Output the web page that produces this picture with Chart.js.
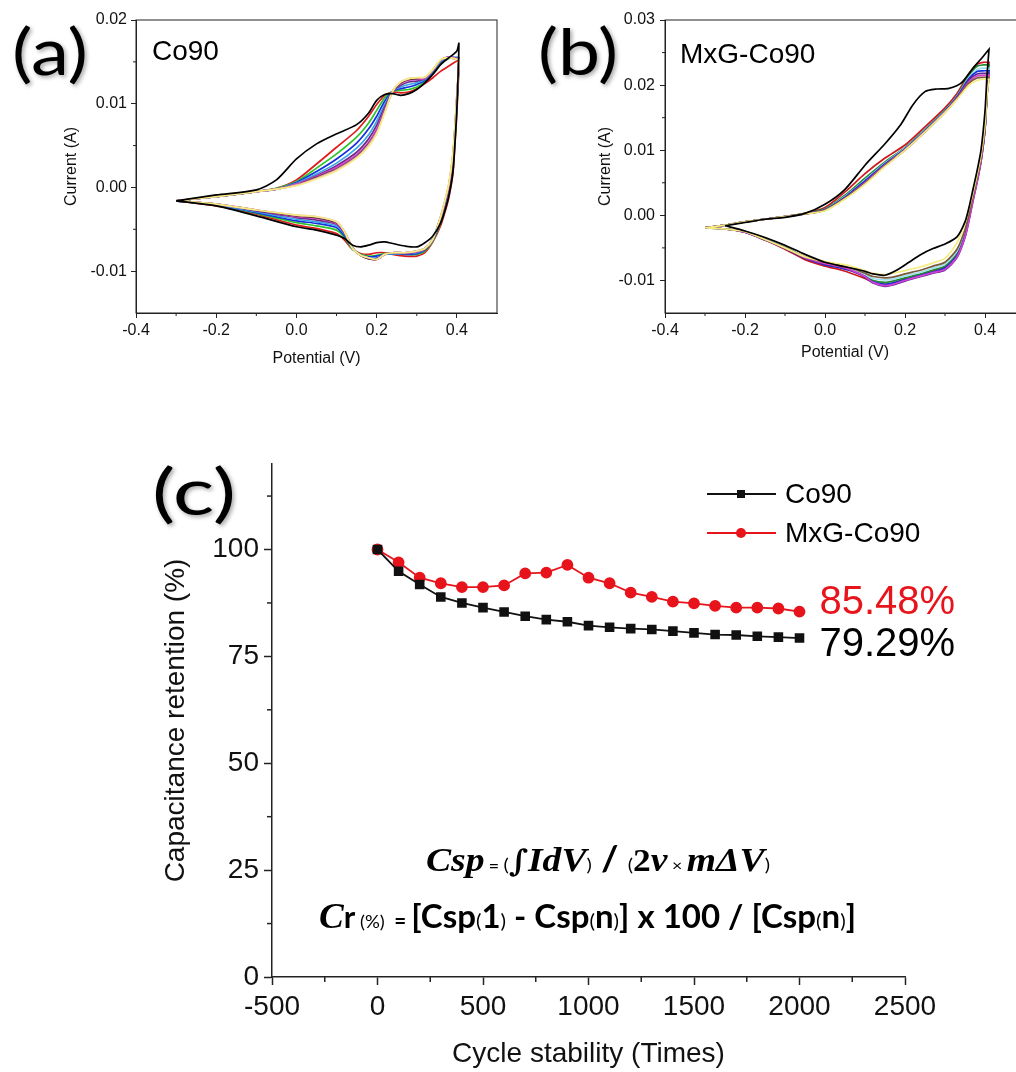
<!DOCTYPE html>
<html><head><meta charset="utf-8">
<script src="https://cdn.jsdelivr.net/npm/chart.js@4.4.1/dist/chart.umd.min.js"></script>
<style>
html,body{margin:0;padding:0;background:#fff;overflow:hidden;width:1016px;height:1072px;}
canvas{position:absolute;}
#ca{left:0;top:0;}
#cb{left:508px;top:0;}
#cc{left:130px;top:440px;}
</style></head><body>
<canvas id="ca" width="508" height="380"></canvas>
<canvas id="cb" width="520" height="380"></canvas>
<canvas id="cc" width="886" height="632"></canvas>
<script>
// ---------------- Panel (a): Co90 CV curves ----------------
const A_V_UP = [-0.3, -0.2, -0.1, -0.05, 0.0, 0.05, 0.1, 0.15, 0.18, 0.2, 0.22, 0.24, 0.26, 0.28, 0.3, 0.32, 0.34, 0.36, 0.38, 0.4];
const A_V_DN = [0.405, 0.4, 0.395, 0.39, 0.38, 0.37, 0.36, 0.34, 0.32, 0.3, 0.27, 0.24, 0.22, 0.2, 0.18, 0.16, 0.14, 0.12, 0.1, 0.05, 0.0, -0.1, -0.2, -0.3];

const A_BLACK_UP   = [-0.0016, -0.0009, -0.0003, 0.0009, 0.0034, 0.0052, 0.0064, 0.0075, 0.0089, 0.0104, 0.0111, 0.0112, 0.0110, 0.0112, 0.0117, 0.0125, 0.0135, 0.0147, 0.0155, 0.0163];
const A_RED_UP     = [-0.0016, -0.0011, -0.0005, -0.0001, 0.0009, 0.0028, 0.0048, 0.0068, 0.0085, 0.0099, 0.0110, 0.0114, 0.0113, 0.0114, 0.0118, 0.0124, 0.0131, 0.0139, 0.0145, 0.0151];
const A_GREEN_UP   = [-0.0016, -0.0011, -0.0005, -0.0001, 0.0007, 0.0023, 0.0040, 0.0060, 0.0077, 0.0092, 0.0107, 0.0115, 0.0116, 0.0117, 0.0120, 0.0126, 0.0136, 0.0148, 0.0154, 0.0155];
const A_BLUE_UP    = [-0.0016, -0.0011, -0.0005, -0.0002, 0.0006, 0.0019, 0.0034, 0.0053, 0.0070, 0.0085, 0.0103, 0.0115, 0.0118, 0.0120, 0.0123, 0.0128, 0.0138, 0.0150, 0.0155, 0.0155];
const A_CYAN_UP    = [-0.0016, -0.0011, -0.0005, -0.0002, 0.0005, 0.0016, 0.0029, 0.0047, 0.0063, 0.0079, 0.0099, 0.0115, 0.0120, 0.0123, 0.0125, 0.0129, 0.0139, 0.0151, 0.0156, 0.0155];
const A_PURPLE_UP  = [-0.0016, -0.0011, -0.0005, -0.0002, 0.0004, 0.0014, 0.0026, 0.0042, 0.0058, 0.0074, 0.0096, 0.0115, 0.0122, 0.0126, 0.0127, 0.0130, 0.0140, 0.0152, 0.0156, 0.0154];
const A_MAGENTA_UP = [-0.0016, -0.0011, -0.0005, -0.0002, 0.0004, 0.0013, 0.0024, 0.0039, 0.0054, 0.0070, 0.0093, 0.0115, 0.0124, 0.0128, 0.0129, 0.0130, 0.0140, 0.0152, 0.0156, 0.0154];
const A_BROWN_UP   = [-0.0016, -0.0011, -0.0005, -0.0002, 0.0003, 0.0012, 0.0022, 0.0037, 0.0052, 0.0067, 0.0091, 0.0115, 0.0125, 0.0129, 0.0130, 0.0131, 0.0140, 0.0152, 0.0155, 0.0153];
const A_PINK_UP    = [-0.0016, -0.0011, -0.0005, -0.0002, 0.0003, 0.0011, 0.0021, 0.0036, 0.0051, 0.0066, 0.0090, 0.0115, 0.0126, 0.0130, 0.0131, 0.0131, 0.0140, 0.0152, 0.0155, 0.0153];
const A_YELLOW_UP  = [-0.0016, -0.0011, -0.0005, -0.0002, 0.0002, 0.0010, 0.0020, 0.0035, 0.0049, 0.0064, 0.0089, 0.0115, 0.0126, 0.0130, 0.0131, 0.0132, 0.0141, 0.0153, 0.0155, 0.0153];

const A_BLACK_DN   = [0.0172, 0.0095, 0.0052, 0.0018, -0.0010, -0.0028, -0.0042, -0.0058, -0.0066, -0.0071, -0.0070, -0.0067, -0.0065, -0.0066, -0.0069, -0.0071, -0.0069, -0.0061, -0.0057, -0.0051, -0.0047, -0.0034, -0.0022, -0.0016];
const A_RED_DN     = [0.0151, 0.0090, 0.0050, 0.0016, -0.0012, -0.0030, -0.0045, -0.0065, -0.0078, -0.0082, -0.0082, -0.0080, -0.0078, -0.0078, -0.0080, -0.0079, -0.0074, -0.0063, -0.0055, -0.0049, -0.0045, -0.0032, -0.0022, -0.0016];
const A_GREEN_DN   = [0.0155, 0.0095, 0.0055, 0.0022, -0.0008, -0.0027, -0.0042, -0.0064, -0.0076, -0.0080, -0.0080, -0.0079, -0.0079, -0.0081, -0.0082, -0.0080, -0.0074, -0.0060, -0.0051, -0.0046, -0.0042, -0.0031, -0.0021, -0.0016];
const A_BLUE_DN    = [0.0155, 0.0100, 0.0060, 0.0026, -0.0004, -0.0024, -0.0040, -0.0063, -0.0075, -0.0079, -0.0080, -0.0079, -0.0080, -0.0082, -0.0083, -0.0081, -0.0073, -0.0058, -0.0048, -0.0043, -0.0040, -0.0030, -0.0021, -0.0016];
const A_CYAN_DN    = [0.0155, 0.0103, 0.0063, 0.0030, -0.0002, -0.0022, -0.0038, -0.0062, -0.0074, -0.0078, -0.0079, -0.0079, -0.0080, -0.0084, -0.0084, -0.0081, -0.0073, -0.0056, -0.0046, -0.0041, -0.0038, -0.0029, -0.0021, -0.0016];
const A_PURPLE_DN  = [0.0154, 0.0106, 0.0066, 0.0034, 0.0000, -0.0020, -0.0036, -0.0062, -0.0074, -0.0077, -0.0079, -0.0078, -0.0080, -0.0085, -0.0085, -0.0081, -0.0073, -0.0055, -0.0044, -0.0039, -0.0036, -0.0028, -0.0020, -0.0016];
const A_MAGENTA_DN = [0.0154, 0.0108, 0.0068, 0.0036, 0.0002, -0.0018, -0.0035, -0.0062, -0.0073, -0.0077, -0.0078, -0.0078, -0.0080, -0.0086, -0.0085, -0.0081, -0.0073, -0.0054, -0.0043, -0.0037, -0.0035, -0.0027, -0.0020, -0.0016];
const A_BROWN_DN   = [0.0153, 0.0110, 0.0070, 0.0038, 0.0003, -0.0017, -0.0034, -0.0062, -0.0073, -0.0076, -0.0078, -0.0078, -0.0080, -0.0086, -0.0085, -0.0081, -0.0072, -0.0053, -0.0042, -0.0036, -0.0034, -0.0027, -0.0020, -0.0016];
const A_PINK_DN    = [0.0153, 0.0110, 0.0071, 0.0039, 0.0004, -0.0016, -0.0034, -0.0062, -0.0073, -0.0076, -0.0078, -0.0078, -0.0080, -0.0086, -0.0084, -0.0081, -0.0073, -0.0053, -0.0041, -0.0035, -0.0033, -0.0027, -0.0020, -0.0016];
const A_YELLOW_DN  = [0.0153, 0.0110, 0.0072, 0.0040, 0.0005, -0.0016, -0.0034, -0.0062, -0.0073, -0.0076, -0.0078, -0.0078, -0.0080, -0.0086, -0.0084, -0.0081, -0.0073, -0.0053, -0.0041, -0.0035, -0.0033, -0.0027, -0.0020, -0.0016];

// ---------------- Panel (b): MxG-Co90 CV curves ----------------
const B_V_UP = [-0.3, -0.25, -0.2, -0.15, -0.1, -0.05, 0.0, 0.05, 0.1, 0.15, 0.2, 0.25, 0.3, 0.33, 0.36, 0.38, 0.395, 0.41];
const B_V_DN = [0.41, 0.405, 0.4, 0.39, 0.38, 0.37, 0.36, 0.35, 0.33, 0.3, 0.27, 0.24, 0.2, 0.17, 0.15, 0.12, 0.1, 0.07, 0.04, 0.0, -0.05, -0.1, -0.15, -0.2, -0.25, -0.3];
const B_BLACK_V_UP = [-0.25, -0.2, -0.15, -0.1, -0.05, 0.0, 0.05, 0.1, 0.15, 0.19, 0.22, 0.25, 0.28, 0.31, 0.34, 0.37, 0.39, 0.41];
const B_BLACK_V_DN = [0.41, 0.405, 0.4, 0.39, 0.38, 0.37, 0.36, 0.35, 0.33, 0.3, 0.27, 0.24, 0.21, 0.18, 0.15, 0.12, 0.1, 0.05, 0.0, -0.05, -0.1, -0.15, -0.2, -0.25];

const B_BLACK_UP   = [-0.0016, -0.0011, -0.0006, -0.0003, 0.0003, 0.0017, 0.0040, 0.0077, 0.0110, 0.0140, 0.0170, 0.0190, 0.0194, 0.0195, 0.0203, 0.0226, 0.0240, 0.0255];
const B_RED_UP     = [-0.0019, -0.0015, -0.0010, -0.0006, -0.0002, 0.0003, 0.0012, 0.0036, 0.0064, 0.0088, 0.0108, 0.0136, 0.0165, 0.0187, 0.0218, 0.0232, 0.0235, 0.0235];
const B_GREEN_UP   = [-0.0019, -0.0015, -0.0010, -0.0006, -0.0002, 0.0003, 0.0010, 0.0031, 0.0057, 0.0082, 0.0104, 0.0132, 0.0162, 0.0184, 0.0215, 0.0229, 0.0231, 0.0231];
const B_CYAN_UP    = [-0.0019, -0.0015, -0.0010, -0.0006, -0.0002, 0.0002, 0.0009, 0.0029, 0.0054, 0.0080, 0.0103, 0.0131, 0.0161, 0.0183, 0.0212, 0.0224, 0.0226, 0.0226];
const B_BLUE_UP    = [-0.0019, -0.0015, -0.0010, -0.0006, -0.0002, 0.0002, 0.0009, 0.0028, 0.0053, 0.0079, 0.0102, 0.0130, 0.0160, 0.0182, 0.0210, 0.0221, 0.0222, 0.0222];
const B_PURPLE_UP  = [-0.0019, -0.0015, -0.0010, -0.0006, -0.0002, 0.0002, 0.0008, 0.0027, 0.0051, 0.0078, 0.0101, 0.0129, 0.0159, 0.0181, 0.0208, 0.0217, 0.0218, 0.0218];
const B_MAGENTA_UP = [-0.0019, -0.0015, -0.0010, -0.0006, -0.0002, 0.0002, 0.0008, 0.0026, 0.0050, 0.0077, 0.0101, 0.0129, 0.0159, 0.0180, 0.0205, 0.0214, 0.0215, 0.0215];
const B_BROWN_UP   = [-0.0019, -0.0015, -0.0010, -0.0006, -0.0002, 0.0002, 0.0008, 0.0026, 0.0049, 0.0076, 0.0100, 0.0128, 0.0158, 0.0179, 0.0203, 0.0211, 0.0212, 0.0212];
const B_YELLOW_UP  = [-0.0019, -0.0015, -0.0010, -0.0006, -0.0002, 0.0002, 0.0007, 0.0025, 0.0048, 0.0075, 0.0100, 0.0128, 0.0158, 0.0178, 0.0200, 0.0207, 0.0209, 0.0209];

const B_BLACK_DN   = [0.0255, 0.0215, 0.0160, 0.0100, 0.0068, 0.0040, 0.0012, -0.0010, -0.0033, -0.0044, -0.0051, -0.0060, -0.0072, -0.0084, -0.0092, -0.0090, -0.0086, -0.0079, -0.0072, -0.0060, -0.0046, -0.0034, -0.0024, -0.0016];
const B_RED_DN     = [0.0235, 0.0190, 0.0135, 0.0085, 0.0055, 0.0028, -0.0002, -0.0028, -0.0060, -0.0080, -0.0086, -0.0092, -0.0098, -0.0104, -0.0106, -0.0103, -0.0097, -0.0090, -0.0084, -0.0078, -0.0068, -0.0052, -0.0038, -0.0026, -0.0021, -0.0019];
const B_GREEN_DN   = [0.0231, 0.0188, 0.0134, 0.0086, 0.0056, 0.0028, -0.0002, -0.0027, -0.0058, -0.0078, -0.0084, -0.0090, -0.0096, -0.0101, -0.0103, -0.0100, -0.0093, -0.0085, -0.0080, -0.0075, -0.0065, -0.0048, -0.0035, -0.0025, -0.0021, -0.0019];
const B_CYAN_DN    = [0.0226, 0.0187, 0.0135, 0.0088, 0.0058, 0.0030, 0.0001, -0.0024, -0.0055, -0.0075, -0.0081, -0.0087, -0.0093, -0.0098, -0.0099, -0.0097, -0.0091, -0.0084, -0.0079, -0.0074, -0.0065, -0.0049, -0.0036, -0.0025, -0.0021, -0.0019];
const B_BLUE_DN    = [0.0222, 0.0186, 0.0133, 0.0084, 0.0053, 0.0025, -0.0005, -0.0031, -0.0062, -0.0081, -0.0087, -0.0092, -0.0099, -0.0104, -0.0106, -0.0102, -0.0094, -0.0086, -0.0081, -0.0076, -0.0066, -0.0050, -0.0037, -0.0026, -0.0021, -0.0019];
const B_PURPLE_DN  = [0.0218, 0.0185, 0.0132, 0.0082, 0.0050, 0.0022, -0.0008, -0.0034, -0.0065, -0.0084, -0.0089, -0.0094, -0.0101, -0.0107, -0.0109, -0.0104, -0.0095, -0.0086, -0.0080, -0.0075, -0.0066, -0.0051, -0.0038, -0.0026, -0.0021, -0.0019];
const B_MAGENTA_DN = [0.0215, 0.0184, 0.0132, 0.0083, 0.0051, 0.0023, -0.0007, -0.0033, -0.0064, -0.0083, -0.0088, -0.0093, -0.0100, -0.0106, -0.0108, -0.0103, -0.0094, -0.0085, -0.0079, -0.0074, -0.0065, -0.0050, -0.0037, -0.0026, -0.0021, -0.0019];
const B_BROWN_DN   = [0.0212, 0.0184, 0.0134, 0.0087, 0.0057, 0.0030, 0.0002, -0.0022, -0.0052, -0.0072, -0.0078, -0.0084, -0.0090, -0.0095, -0.0096, -0.0094, -0.0089, -0.0082, -0.0077, -0.0072, -0.0064, -0.0050, -0.0037, -0.0025, -0.0021, -0.0019];
const B_YELLOW_DN  = [0.0209, 0.0185, 0.0140, 0.0092, 0.0062, 0.0035, 0.0010, -0.0012, -0.0042, -0.0066, -0.0073, -0.0079, -0.0085, -0.0089, -0.0091, -0.0089, -0.0085, -0.0079, -0.0075, -0.0071, -0.0064, -0.0050, -0.0037, -0.0025, -0.0021, -0.0019];

// tick positions
const CV_X_MINOR = [-0.3, -0.1, 0.1, 0.3];
const A_Y_MINOR = [-0.005, 0.005, 0.015];
const B_Y_MINOR = [-0.005, 0.005, 0.015, 0.025];

// ---------------- Panel (c): capacitance retention ----------------
const CYCLES = [0, 100, 200, 300, 400, 500, 600, 700, 800, 900, 1000, 1100, 1200, 1300, 1400, 1500, 1600, 1700, 1800, 1900, 2000];
const CO90_RET = [100, 94.9, 91.8, 88.9, 87.5, 86.4, 85.4, 84.4, 83.6, 83.1, 82.2, 81.8, 81.5, 81.3, 80.9, 80.5, 80.1, 80.0, 79.7, 79.5, 79.29];
const MXG_RET  = [100, 97.0, 93.4, 92.1, 91.2, 91.2, 91.6, 94.4, 94.6, 96.4, 93.4, 92.1, 89.9, 88.9, 87.8, 87.4, 86.8, 86.4, 86.4, 86.2, 85.48];
const C_X_MINOR = [-250, 250, 750, 1250, 1750, 2250];
const C_Y_MINOR = [12.5, 37.5, 62.5, 87.5, 112.5];
const SERIES_NAMES = ['Co90', 'MxG-Co90'];

// ---------------- helpers ----------------
const SANS = '"Liberation Sans", Arial, sans-serif';
const SERIF = '"Liberation Serif", "DejaVu Serif", serif';
const LATO = 'Lato, "Open Sans", sans-serif';
Chart.defaults.font.family = SANS;
Chart.defaults.color = '#111';

function loop(vUp, iUp, vDn, iDn) {
  const pts = [];
  vUp.forEach((v, k) => pts.push({x: v, y: iUp[k]}));
  vDn.forEach((v, k) => pts.push({x: v, y: iDn[k]}));
  return pts;
}
function cvDataset(label, color, pts) {
  return {label, data: pts, borderColor: color, backgroundColor: color, borderWidth: 1.7,
          pointRadius: 0, tension: 0.25, fill: false};
}
function drawRich(ctx, segs, x0, x1, baseY, shadow) {
  ctx.save();
  ctx.textBaseline = 'alphabetic';
  ctx.textAlign = 'left';
  let total = 0;
  segs.forEach(s => { ctx.font = s.f; s.w = ctx.measureText(s.t).width; total += s.w; });
  const sc = (x1 - x0) / total;
  ctx.translate(x0, baseY);
  ctx.scale(sc, 1);
  if (shadow) {
    ctx.shadowColor = 'rgba(0,0,0,0.35)'; ctx.shadowBlur = 4; ctx.shadowOffsetX = 2; ctx.shadowOffsetY = 2;
  }
  let x = 0;
  segs.forEach(s => { ctx.font = s.f; ctx.fillStyle = s.c || '#000'; ctx.fillText(s.t, x, s.dy || 0); x += s.w; });
  ctx.restore();
}
const minorTicks = {
  id: 'minorTicks',
  afterDraw(chart, args, o) {
    const ctx = chart.ctx, xs = chart.scales.x, ys = chart.scales.y, ca = chart.chartArea;
    ctx.save(); ctx.strokeStyle = o.color; ctx.lineWidth = o.width;
    (o.x || []).forEach(v => { const p = xs.getPixelForValue(v); ctx.beginPath(); ctx.moveTo(p, ca.bottom); ctx.lineTo(p, ca.bottom + o.len); ctx.stroke(); });
    (o.y || []).forEach(v => { const p = ys.getPixelForValue(v); ctx.beginPath(); ctx.moveTo(ca.left, p); ctx.lineTo(ca.left - o.len, p); ctx.stroke(); });
    if (o.frame) { ctx.lineWidth = 1; ctx.strokeStyle = '#222'; ctx.strokeRect(ca.left, ca.top, ca.right - ca.left, ca.bottom - ca.top); }
    ctx.restore();
  }
};
const textLayer = {
  id: 'textLayer',
  afterDraw(chart, args, o) { if (o.draw) o.draw(chart, chart.ctx); }
};
Chart.register(minorTicks, textLayer);

function cvOptions(yMin, yMax, yWidth, yPad, yTitlePad, xTitlePad, xMinor, yMinor, drawFn, padRight) {
  return {
    responsive: false, animation: false, devicePixelRatio: 1,
    layout: {padding: {left: 0, top: 20, right: padRight, bottom: 0}},
    plugins: {legend: {display: false}, tooltip: {enabled: false},
      minorTicks: {x: xMinor, y: yMinor, len: 3, color: '#222', width: 1, frame: true},
      textLayer: {draw: drawFn}},
    scales: {
      x: {type: 'linear', min: -0.4, max: 0.5, afterFit: s => { s.height = 67; },
        ticks: {stepSize: 0.2, includeBounds: false, autoSkip: false, maxRotation: 0,
          callback: v => (Math.abs(v) < 1e-9 ? 0 : v).toFixed(1), font: {size: 16}, color: '#111', padding: 3},
        grid: {drawOnChartArea: false, drawTicks: true, tickLength: 5, color: '#222'},
        border: {display: true, color: '#222', width: 1},
        title: {display: true, text: 'Potential (V)', font: {size: 16}, color: '#111', padding: {top: 0, bottom: xTitlePad}}},
      y: {type: 'linear', min: yMin, max: yMax, afterFit: s => { s.width = yWidth; },
        ticks: {stepSize: 0.01, includeBounds: false, autoSkip: false,
          callback: v => (Math.abs(v) < 1e-9 ? 0 : v).toFixed(2), font: {size: 16}, color: '#111', padding: yPad},
        grid: {drawOnChartArea: false, drawTicks: true, tickLength: 5, color: '#222'},
        border: {display: true, color: '#222', width: 1},
        title: {display: true, text: 'Current (A)', font: {size: 16}, color: '#111', padding: {top: yTitlePad, bottom: 0}}}
    }
  };
}

// ---------------- chart (a) ----------------
new Chart(document.getElementById('ca'), {
  type: 'line',
  data: {datasets: [
    cvDataset('cycle 1', '#000000', loop(A_V_UP, A_BLACK_UP, A_V_DN, A_BLACK_DN)),
    cvDataset('cycle n', '#f4ec80', loop(A_V_UP, A_YELLOW_UP, A_V_DN, A_YELLOW_DN)),
    cvDataset('cycle 9', '#e89ac8', loop(A_V_UP, A_PINK_UP, A_V_DN, A_PINK_DN)),
    cvDataset('cycle 8', '#5a3a30', loop(A_V_UP, A_BROWN_UP, A_V_DN, A_BROWN_DN)),
    cvDataset('cycle 7', '#d63fd0', loop(A_V_UP, A_MAGENTA_UP, A_V_DN, A_MAGENTA_DN)),
    cvDataset('cycle 6', '#6b2a86', loop(A_V_UP, A_PURPLE_UP, A_V_DN, A_PURPLE_DN)),
    cvDataset('cycle 5', '#35a6ec', loop(A_V_UP, A_CYAN_UP, A_V_DN, A_CYAN_DN)),
    cvDataset('cycle 4', '#1530e0', loop(A_V_UP, A_BLUE_UP, A_V_DN, A_BLUE_DN)),
    cvDataset('cycle 3', '#2bc42b', loop(A_V_UP, A_GREEN_UP, A_V_DN, A_GREEN_DN)),
    cvDataset('cycle 2', '#e01a1a', loop(A_V_UP, A_RED_UP, A_V_DN, A_RED_DN))
  ]},
  options: cvOptions(-0.015, 0.02, 136, 4, 62, 12, CV_X_MINOR, A_Y_MINOR, (chart, ctx) => {
    ctx.save();
    ctx.font = '28px ' + SANS; ctx.fillStyle = '#000'; ctx.textBaseline = 'alphabetic';
    ctx.fillText('Co90', 152, 60);
    ctx.restore();
    drawRich(ctx, [{t: '(a)', f: '64px ' + LATO}], 12, 88, 75, true);
  }, 11)
});

// ---------------- chart (b) ----------------
new Chart(document.getElementById('cb'), {
  type: 'line',
  data: {datasets: [
    cvDataset('cycle 1', '#000000', loop(B_BLACK_V_UP, B_BLACK_UP, B_BLACK_V_DN, B_BLACK_DN)),
    cvDataset('cycle n', '#f4ec80', loop(B_V_UP, B_YELLOW_UP, B_V_DN, B_YELLOW_DN)),
    cvDataset('cycle 8', '#7a5a3a', loop(B_V_UP, B_BROWN_UP, B_V_DN, B_BROWN_DN)),
    cvDataset('cycle 7', '#d63fd0', loop(B_V_UP, B_MAGENTA_UP, B_V_DN, B_MAGENTA_DN)),
    cvDataset('cycle 6', '#5a2a96', loop(B_V_UP, B_PURPLE_UP, B_V_DN, B_PURPLE_DN)),
    cvDataset('cycle 5', '#1530e0', loop(B_V_UP, B_BLUE_UP, B_V_DN, B_BLUE_DN)),
    cvDataset('cycle 4', '#9fe0f0', loop(B_V_UP, B_CYAN_UP, B_V_DN, B_CYAN_DN)),
    cvDataset('cycle 3', '#1f8a2f', loop(B_V_UP, B_GREEN_UP, B_V_DN, B_GREEN_DN)),
    cvDataset('cycle 2', '#d0161a', loop(B_V_UP, B_RED_UP, B_V_DN, B_RED_DN))
  ]},
  options: cvOptions(-0.015, 0.03, 157, 5, 88, 18, CV_X_MINOR, B_Y_MINOR, (chart, ctx) => {
    ctx.save();
    ctx.font = '28px ' + SANS; ctx.fillStyle = '#000'; ctx.textBaseline = 'alphabetic';
    ctx.fillText('MxG-Co90', 172, 63);
    ctx.restore();
    drawRich(ctx, [{t: '(b)', f: '64px ' + LATO}], 30, 110, 75, true);
  }, 3)
});

// ---------------- chart (c) ----------------
const RED_C = '#e8141b';
const BLACK_C = '#111111';
new Chart(document.getElementById('cc'), {
  type: 'line',
  data: {
    labels: CYCLES,
    datasets: [
      {label: SERIES_NAMES[0], data: CYCLES.map((c, k) => ({x: c, y: CO90_RET[k]})),
       borderColor: BLACK_C, backgroundColor: BLACK_C, borderWidth: 1.8, pointStyle: 'rect', pointRadius: 5.5, tension: 0},
      {label: SERIES_NAMES[1], data: CYCLES.map((c, k) => ({x: c, y: MXG_RET[k]})),
       borderColor: RED_C, backgroundColor: RED_C, borderWidth: 1.8, pointStyle: 'circle', pointRadius: 5, tension: 0}
    ]
  },
  options: {
    responsive: false, animation: false, devicePixelRatio: 1,
    layout: {padding: {left: 0, top: 24, right: 111, bottom: 0}},
    plugins: {legend: {display: false}, tooltip: {enabled: false},
      minorTicks: {x: C_X_MINOR, y: C_Y_MINOR, len: 5, color: '#222', width: 1.5, frame: false},
      textLayer: {draw: (chart, ctx) => {
        const xs = chart.scales.x, ys = chart.scales.y;
        // legend
        const rows = [{name: SERIES_NAMES[0], c: BLACK_C, rect: true, y: 54}, {name: SERIES_NAMES[1], c: RED_C, rect: false, y: 93}];
        ctx.save();
        rows.forEach(r => {
          ctx.strokeStyle = r.c; ctx.fillStyle = r.c; ctx.lineWidth = 1.8;
          ctx.beginPath(); ctx.moveTo(577, r.y); ctx.lineTo(646, r.y); ctx.stroke();
          if (r.rect) { ctx.fillRect(611 - 4, r.y - 4, 8, 8); }
          else { ctx.beginPath(); ctx.arc(611, r.y, 5, 0, Math.PI * 2); ctx.fill(); }
          ctx.fillStyle = '#000'; ctx.font = '28px ' + SANS; ctx.textBaseline = 'middle';
          ctx.fillText(r.name, 655, r.y + 1);
        });
        // end values
        const last = CYCLES.length - 1;
        const px = xs.getPixelForValue(CYCLES[last]);
        ctx.font = '40px ' + SANS; ctx.textBaseline = 'middle';
        ctx.fillStyle = RED_C;
        ctx.fillText(MXG_RET[last].toFixed(2) + '%', px + 20, ys.getPixelForValue(MXG_RET[last]) - 9);
        ctx.fillStyle = '#000';
        ctx.fillText(CO90_RET[last].toFixed(2) + '%', px + 20, ys.getPixelForValue(CO90_RET[last]) + 7);
        ctx.restore();
        // formulas
        const B = 'bold 32px ' + LATO, P = '20px ' + LATO, MI = 'italic bold 34px ' + SERIF;
        drawRich(ctx, [
          {t: 'Csp', f: MI}, {t: ' = ', f: 'bold 16px ' + LATO}, {t: '(', f: '18px ' + LATO},
          {t: '\u222B', f: 'bold 30px "DejaVu Serif", serif'}, {t: 'IdV', f: MI}, {t: ')', f: '18px ' + LATO},
          {t: ' / ', f: 'bold 34px ' + LATO}, {t: '(', f: '18px ' + LATO}, {t: '2', f: 'bold 32px ' + SERIF},
          {t: 'v', f: MI}, {t: ' \u00D7 ', f: '16px ' + LATO}, {t: 'm\u0394V', f: MI}, {t: ')', f: '18px ' + LATO}
        ], 296, 640, 431, false);
        drawRich(ctx, [
          {t: 'C', f: 'italic bold 36px ' + SERIF}, {t: 'r', f: 'bold 30px ' + LATO}, {t: ' (%)  ', f: '18px ' + LATO},
          {t: '= ', f: 'bold 20px ' + LATO}, {t: '[Csp', f: B}, {t: '(', f: P}, {t: '1', f: B}, {t: ')', f: P},
          {t: ' - Csp', f: B}, {t: '(', f: P}, {t: 'n', f: B}, {t: ')', f: P},
          {t: '] x 100 / [Csp', f: B}, {t: '(', f: P}, {t: 'n', f: B}, {t: ')', f: P}, {t: ']', f: B}
        ], 189, 726, 488, false);
        drawRich(ctx, [{t: '(c)', f: '64px ' + LATO}], 22, 106, 75, true);
      }}
    },
    scales: {
      x: {type: 'linear', min: -500, max: 2500, afterFit: s => { s.height = 95; },
        ticks: {stepSize: 500, autoSkip: false, maxRotation: 0, callback: v => String(Math.round(v)),
          font: {size: 28}, color: '#111', padding: 5},
        grid: {drawOnChartArea: false, drawTicks: true, tickLength: 8, tickWidth: 1.5, color: '#222'},
        border: {display: true, color: '#222', width: 1.5},
        title: {display: true, text: 'Cycle stability (Times)', font: {size: 28}, color: '#111', padding: {top: 0, bottom: 1}}},
      y: {type: 'linear', min: 0, max: 120, afterFit: s => { s.width = 142; },
        ticks: {stepSize: 25, includeBounds: false, autoSkip: false, callback: v => String(Math.round(v)),
          font: {size: 28}, color: '#111', padding: 5},
        grid: {drawOnChartArea: false, drawTicks: true, tickLength: 8, tickWidth: 1.5, color: '#222'},
        border: {display: true, color: '#222', width: 1.5},
        title: {display: true, text: 'Capacitance retention (%)', font: {size: 28}, color: '#111', padding: {top: 29, bottom: 0}}}
    }
  }
});
</script>
</body></html>
